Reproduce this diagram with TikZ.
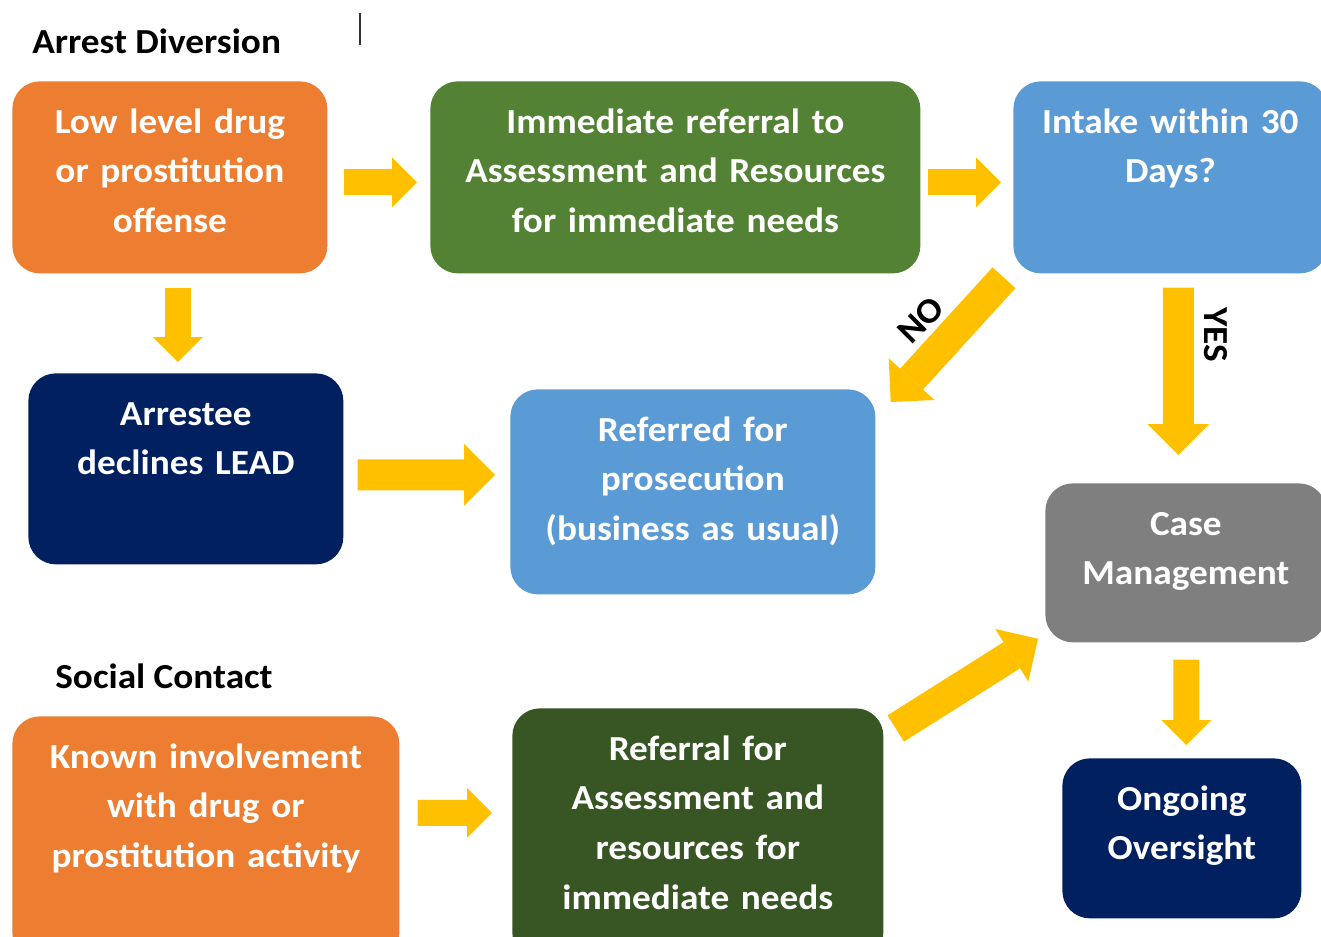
\documentclass[tikz,border=0pt]{standalone}
\usepackage{fontspec}
\setmainfont{Carlito}[FakeStretch=1.06]
\usetikzlibrary{arrows.meta,calc}
\definecolor{orangebox}{HTML}{ED7D31}
\definecolor{greenbox}{HTML}{548235}
\definecolor{bluebox}{HTML}{5B9BD5}
\definecolor{navybox}{HTML}{002060}
\definecolor{graybox}{HTML}{7F7F7F}
\definecolor{darkgreenbox}{HTML}{375623}
\definecolor{arrowyellow}{HTML}{FFC000}
\newcommand\flowfont{\bfseries\fontsize{20}{28.2}\selectfont}
\begin{document}
\begin{tikzpicture}[x=0.2mm, y=-0.2mm,
    box/.style={anchor=north west, rounded corners=5.5mm, inner xsep=0pt, inner ysep=0pt,
                align=center, text=white, font=\flowfont, text height=10.4mm},
    head/.style={anchor=base west, inner sep=0pt, font=\flowfont},
    flow/.style={arrowyellow, line width=5.2mm, -{Triangle[length=5mm, width=10mm, line width=0pt]}},
    bigflow/.style={arrowyellow, line width=6.2mm, -{Triangle[length=6.2mm, width=12.4mm, line width=0pt]}}]
  \useasboundingbox (0,0) rectangle (1321,936);
  \clip (0,0) rectangle (1321,936);
  \node[head] (arrest) at (32,53) {Arrest Diversion};
  \node[head] (social) at (55,688) {Social Contact};
  \draw[line width=0.3mm, black!80] (360,13) -- (360,45);
  \node[box, fill=orangebox, text width=63mm, text depth=28mm] (low) at (12,81)
      {Low level drug\\or prostitution\\offense};
  \node[box, fill=greenbox, text width=98mm, text depth=28mm] (immed) at (430,81)
      {Immediate referral to\\Assessment and Resources\\for immediate needs};
  \node[box, fill=bluebox, text width=62.8mm, text depth=28mm] (intake) at (1013,81)
      {Intake within 30\\Days?};
  \node[box, fill=navybox, text width=63mm, text depth=27.8mm] (arrestee) at (28,373)
      {Arrestee\\declines LEAD};
  \node[box, fill=bluebox, text width=73mm, text depth=30.6mm] (prosec) at (510,389)
      {Referred for\\prosecution\\(business as usual)};
  \node[box, fill=graybox, text width=56.2mm, text depth=21.4mm] (case) at (1045,483)
      {Case\\Management};
  \node[box, fill=orangebox, text width=77.4mm, text depth=38.4mm] (known) at (12,716)
      {Known involvement\\with drug or\\prostitution activity};
  \node[box, fill=darkgreenbox, text width=74.2mm, text depth=40mm] (refer) at (512,708)
      {Referral for\\Assessment and\\resources for\\immediate needs};
  \node[box, fill=navybox, text width=47.8mm, text depth=21.6mm] (oversight) at (1062,758)
      {Ongoing\\Oversight};
  \draw[flow] ($(low.east)+(16,5)$) -- ($(immed.west)+(-13,5)$);
  \draw[flow] ($(immed.east)+(7,5)$) -- ($(intake.west)+(-12,5)$);
  \draw[flow] ($(low.south)+(8,14)$) -- ($(arrestee.north)+(-8,-11)$);
  \draw[bigflow] ($(arrestee.east)+(14,6)$) -- ($(prosec.west)+(-15,-17)$);
  \draw[bigflow] ($(intake.south west)+(-9,4)$) -- ($(prosec.north east)+(15,13)$);
  \draw[bigflow] ($(intake.south)+(8,14)$) -- ($(case.north)+(-7.5,-28)$);
  \draw[flow] ($(case.south)+(0.5,17)$) -- ($(oversight.north)+(4.5,-13)$);
  \draw[bigflow] ($(refer.north east)+(12,20.5)$) -- ($(case.south west)+(-7,-4)$);
  \draw[flow] ($(known.east)+(18,-25.5)$) -- ($(refer.west)+(-20,-21.5)$);
  \node[font=\flowfont, rotate=45, inner sep=0pt] (no) at (921,320) {NO};
  \node[font=\flowfont, rotate=-90, inner sep=0pt] (yes) at (1216,335) {YES};
\end{tikzpicture}
\end{document}
